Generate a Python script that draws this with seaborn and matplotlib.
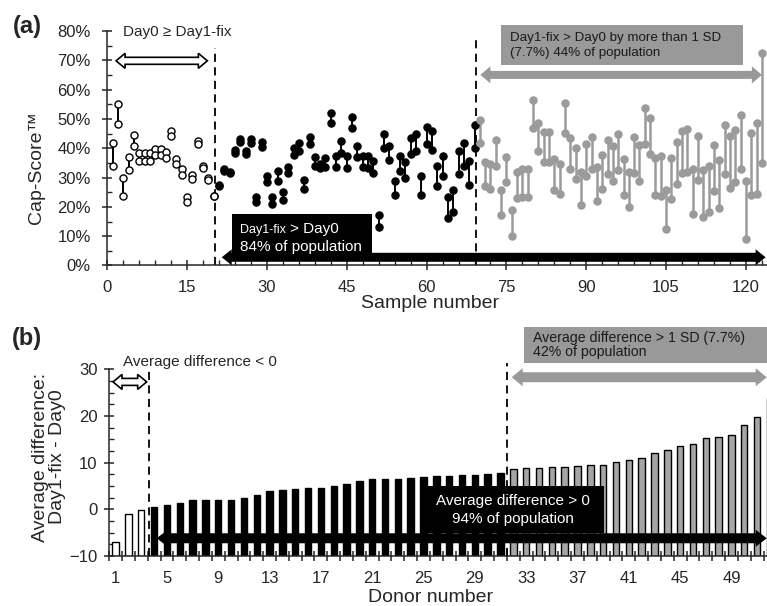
import numpy as np
import pandas as pd
import matplotlib
matplotlib.use("Agg")
import matplotlib.pyplot as plt
import matplotlib.ticker as mticker
import seaborn as sns
from matplotlib.patches import Polygon, Rectangle
from matplotlib.transforms import IdentityTransform

#%% Data

# (a) Cap-Score (%) per sample, samples 1-20: Day0 >= Day1-fix
day0_open = [41.9, 55.1, 29.8, 37.0, 44.4, 38.5, 38.5, 38.5, 39.8, 39.8,
             38.7, 45.8, 36.3, 32.8, 23.3, 30.9, 42.3, 34.1, 29.7, 23.8]
day1_open = [34.0, 48.1, 23.7, 32.7, 40.6, 35.8, 35.8, 35.8, 37.8, 37.8,
             36.6, 44.0, 34.7, 30.8, 21.7, 29.6, 41.4, 33.2, 29.0, 23.6]

# samples 21-69: Day1-fix > Day0
day0_pos = [27.0, 32.2, 31.4, 38.3, 42.0, 38.1, 41.8, 21.5, 40.4, 28.4,
            21.0, 28.8, 22.4, 31.5, 37.7, 39.2, 26.2, 41.3, 34.0, 33.1,
            33.6, 48.6, 33.6, 38.5, 33.2, 46.9, 36.9, 33.6, 33.3, 31.5,
            13.1, 40.2, 36.1, 24.1, 32.2, 29.8, 37.9, 39.0, 24.2, 41.3,
            39.5, 27.0, 30.4, 16.3, 18.2, 31.3, 33.8, 27.6, 40.0]
day1_pos = [27.6, 33.0, 31.8, 39.5, 43.3, 39.2, 43.0, 23.3, 42.2, 30.4,
            23.3, 32.3, 24.9, 33.6, 40.2, 41.8, 29.2, 43.9, 37.0, 34.7,
            36.6, 52.0, 37.2, 42.3, 37.2, 50.6, 40.6, 37.5, 37.2, 35.5,
            17.3, 44.7, 40.6, 28.8, 37.2, 35.3, 43.5, 44.7, 30.4, 47.2,
            45.8, 33.8, 37.5, 23.3, 25.6, 39.0, 41.8, 35.5, 47.8]

# samples 70-123: Day1-fix > Day0 by more than 1 SD
day0_sd = [41.8, 27.0, 26.2, 34.1, 17.3, 28.4, 10.2, 23.1, 23.5, 23.3,
           46.9, 39.2, 35.3, 35.3, 25.9, 24.5, 45.2, 33.0, 29.6, 20.8,
           30.4, 32.8, 22.0, 26.2, 31.1, 28.7, 32.7, 24.1, 19.9, 31.6,
           28.8, 41.5, 37.9, 23.9, 23.7, 12.3, 22.8, 27.9, 31.5, 31.9,
           17.4, 29.0, 16.7, 18.2, 25.4, 19.6, 31.3, 26.4, 28.4, 33.0,
           8.9, 23.9, 24.5, 34.9]
day1_sd = [49.7, 35.3, 34.5, 42.7, 25.8, 37.0, 19.0, 31.9, 33.0, 33.0,
           56.5, 48.6, 45.5, 45.5, 36.2, 34.7, 55.5, 43.5, 40.2, 31.9,
           41.3, 43.8, 33.6, 37.8, 42.9, 40.6, 44.7, 36.2, 31.9, 43.8,
           41.0, 53.8, 50.4, 36.6, 37.3, 25.9, 36.6, 42.1, 45.7, 46.6,
           33.0, 44.0, 32.4, 34.1, 41.2, 36.1, 48.0, 44.0, 46.3, 51.2,
           28.8, 45.2, 48.6, 72.5]

# (b) average difference Day1-fix - Day0 per donor (sorted)
donor_diff = [-6.9, -0.9, -0.1, 0.6, 0.9, 1.3, 1.9, 2.1, 2.1, 2.1,
              2.4, 3.0, 4.0, 4.1, 4.3, 4.6, 4.6, 4.9, 5.4, 6.1,
              6.4, 6.6, 6.6, 6.8, 6.9, 7.1, 7.2, 7.4, 7.4, 7.6,
              7.8, 8.6, 8.8, 8.9, 9.0, 9.0, 9.2, 9.4, 9.5, 10.1,
              10.6, 11.1, 12.0, 12.7, 13.6, 13.9, 15.2, 15.6, 15.9, 18.0,
              19.8, 23.8]
donor_band = ["neg"] * 3 + ["pos"] * 28 + ["sd"] * 21
bar_base = -10

GREY = "#9b9b9b"
BOXGREY = "#999999"

#%% Figure set-up

sns.set_style("ticks")
plt.rcParams["font.family"] = ["Liberation Sans", "DejaVu Sans"]
plt.rcParams["axes.linewidth"] = 1.1

W, H = 767, 606
fig = plt.figure(figsize=(W / 100, H / 100), dpi=100)


def px_axes(left, top, right, bottom):
    return fig.add_axes([left / W, 1 - bottom / H, (right - left) / W, (bottom - top) / H])


def fat_arrow(ax, x0, x1, y, shaft, head_w, head_l, fc, ec="none", lw=1.0, z=6):
    # double headed block arrow, sizes in pixels
    (p0, py), (p1, _) = ax.transData.transform([(x0, y), (x1, y)])
    s, h = shaft / 2, head_w / 2
    pts = [(p0, py), (p0 + head_l, py + h), (p0 + head_l, py + s),
           (p1 - head_l, py + s), (p1 - head_l, py + h), (p1, py),
           (p1 - head_l, py - h), (p1 - head_l, py - s),
           (p0 + head_l, py - s), (p0 + head_l, py - h)]
    ax.add_patch(Polygon(pts, closed=True, transform=IdentityTransform(),
                         fc=fc, ec=ec, lw=lw, clip_on=False, zorder=z))


def box(ax, x0, x1, y0, y1, fc):
    ax.add_patch(Rectangle((x0, y0), x1 - x0, y1 - y0, fc=fc, ec="none",
                           clip_on=False, zorder=6))


ax1 = px_axes(107.3, 30.9, 772, 265.5)
ax2 = px_axes(109.2, 369.3, 772, 556)

#%% (a) paired Cap-Scores

rows = []
n = 1
for grp, d0, d1 in [("open", day0_open, day1_open),
                    ("pos", day0_pos, day1_pos),
                    ("sd", day0_sd, day1_sd)]:
    for a, b in zip(d0, d1):
        rows.append((n, a, "Day0", grp))
        rows.append((n, b, "Day1-fix", grp))
        n += 1
pairs = pd.DataFrame(rows, columns=["sample", "score", "visit", "group"])

looks = {"open": ("black", "white", "black", 1.4),
         "pos": ("black", "black", "black", 1.4),
         "sd": (GREY, GREY, GREY, 1.8)}

for grp, sub in pairs.groupby("group"):
    lc, fc, ec, lw = looks[grp]
    sns.lineplot(data=sub, x="sample", y="score", units="sample", estimator=None,
                 color=lc, lw=lw, ax=ax1, zorder=2)
    sns.scatterplot(data=sub, x="sample", y="score", color=fc, edgecolor=ec,
                    linewidth=1.0, s=26, ax=ax1, zorder=3)

ax1.set_xlim(0, 124.9)
ax1.set_ylim(0, 80)
ax1.set_xlabel("")
ax1.set_ylabel("")
ax1.set_xticks(np.arange(0, 121, 15))
ax1.set_xticks(np.arange(0, 124, 3), minor=True)
ax1.set_yticks(np.arange(0, 81, 10))
ax1.set_yticks(np.arange(0, 81, 5), minor=True)
ax1.yaxis.set_major_formatter(mticker.FuncFormatter(lambda v, p: f"{v:.0f}%"))
ax1.tick_params(which="major", direction="inout", length=7, width=1.1, labelsize=12)
ax1.tick_params(axis="x", which="major", pad=6.9)
ax1.tick_params(axis="y", which="major", pad=8.3)
ax1.tick_params(which="minor", direction="in", length=3.5, width=1.0)
sns.despine(ax=ax1)

ax1.axvline(20.3, ymin=0, ymax=74 / 80, color="black", lw=1.3, dashes=(4.5, 3), zorder=1)
ax1.axvline(69.3, ymin=0, ymax=78 / 80, color="black", lw=1.3, dashes=(4.5, 3), zorder=1)

ax1.text(2.9, 79.6, "Day0 \u2265 Day1-fix", fontsize=11, va="center", ha="left")
fat_arrow(ax1, 1.65, 18.8, 69.8, 7, 15, 9, "white", "black", 1.2)

box(ax1, 73.9, 119.4, 68.4, 82.0, BOXGREY)
ax1.text(75.6, 77.5, "Day1-fix > Day0 by more than 1 SD", fontsize=9.6,
         color="#1a1a1a", va="center", zorder=7)
ax1.text(75.6, 72.3, "(7.7%) 44% of population", fontsize=9.6,
         color="#1a1a1a", va="center", zorder=7)
fat_arrow(ax1, 70.1, 123.0, 65.0, 8, 17, 10, BOXGREY)

box(ax1, 23.5, 49.7, 4.2, 17.5, "black")
t1 = ax1.text(24.9, 12.1, "Day1-fix", fontsize=9, color="white", va="center", zorder=7)
ax1.annotate("> Day0", xy=(1, 0), xycoords=t1, xytext=(3, 0),
             textcoords="offset points", fontsize=11, color="white",
             va="bottom", zorder=7)
ax1.text(24.9, 6.4, "84% of population", fontsize=11, color="white",
         va="center", zorder=7)
fat_arrow(ax1, 21.5, 123.7, 2.8, 9, 16, 10, "black")

#%% (b) average difference per donor

bars = pd.DataFrame({"donor": np.arange(1, len(donor_diff) + 1),
                     "diff": donor_diff, "band": donor_band})
bars["height"] = bars["diff"] - bar_base

sns.barplot(data=bars, x="donor", y="height", hue="band",
            palette={"neg": "white", "pos": "black", "sd": "#a6a6a6"},
            native_scale=True, width=0.5, dodge=False, errorbar=None,
            edgecolor="black", linewidth=1.0, legend=False, bottom=bar_base,
            ax=ax2, zorder=2)

ax2.set_xlim(0.5, 52.16)
ax2.set_ylim(-10, 30)
ax2.set_xlabel("")
ax2.set_ylabel("")
ax2.set_xticks(np.arange(1, 50, 4))
ax2.set_xticks(np.arange(0.5, 52, 1), minor=True)
ax2.set_yticks(np.arange(-10, 31, 10))
ax2.set_yticks(np.arange(-10, 30.1, 2.5), minor=True)
ax2.tick_params(labelsize=12)
ax2.tick_params(axis="x", which="major", length=0, pad=10.5)
ax2.tick_params(axis="x", which="minor", direction="inout", length=7, width=1.1)
ax2.tick_params(axis="y", which="major", direction="inout", length=7, width=1.1, pad=4.9)
ax2.tick_params(axis="y", which="minor", direction="in", length=3.5, width=1.0)
sns.despine(ax=ax2)

ax2.axvline(3.58, ymin=0, ymax=1.0, color="black", lw=1.3, dashes=(4.5, 3), zorder=3)
ax2.axvline(31.5, ymin=0, ymax=41.3 / 40, color="black", lw=1.3, dashes=(4.5, 3),
            zorder=3, clip_on=False)

ax2.text(1.57, 31.6, "Average difference < 0", fontsize=11, va="center", ha="left")
fat_arrow(ax2, 0.8, 3.42, 27.3, 7, 15, 9, "white", "black", 1.2)

box(ax2, 32.83, 53.5, 31.3, 39.0, BOXGREY)
ax2.text(33.5, 36.7, "Average difference > 1 SD (7.7%)", fontsize=10.2,
         color="#1a1a1a", va="center", zorder=7)
ax2.text(33.5, 33.7, "42% of population", fontsize=10.2, color="#1a1a1a",
         va="center", zorder=7)
fat_arrow(ax2, 31.87, 51.75, 28.3, 10, 18, 11, BOXGREY)

box(ax2, 24.7, 39.1, -5.0, 5.06, "black")
ax2.text(31.95, 1.8, "Average difference > 0", fontsize=11, color="white",
         ha="center", va="center", zorder=7)
ax2.text(31.95, -2.1, "94% of population", fontsize=11, color="white",
         ha="center", va="center", zorder=7)
fat_arrow(ax2, 4.2, 51.75, -6.2, 10, 17, 11, "black")

#%% labels

fig.text(430 / W, 1 - 303 / H, "Sample number", fontsize=14, ha="center", va="center")
fig.text(36.5 / W, 1 - 168 / H, "Cap-Score\u2122", fontsize=14, rotation=90,
         ha="center", va="center")
fig.text(431 / W, 1 - 598 / H, "Donor number", fontsize=14, ha="center", va="center")
fig.text(49 / W, 1 - 457 / H, "Average difference:\nDay1-fix - Day0", fontsize=14,
         rotation=90, ha="center", va="center", multialignment="center",
         linespacing=1.0)
fig.text(27 / W, 1 - 27 / H, "(a)", fontsize=17, fontweight="bold", ha="center", va="center")
fig.text(27 / W, 1 - 338 / H, "(b)", fontsize=17, fontweight="bold", ha="center", va="center")

plt.savefig("out.png", dpi=100)
